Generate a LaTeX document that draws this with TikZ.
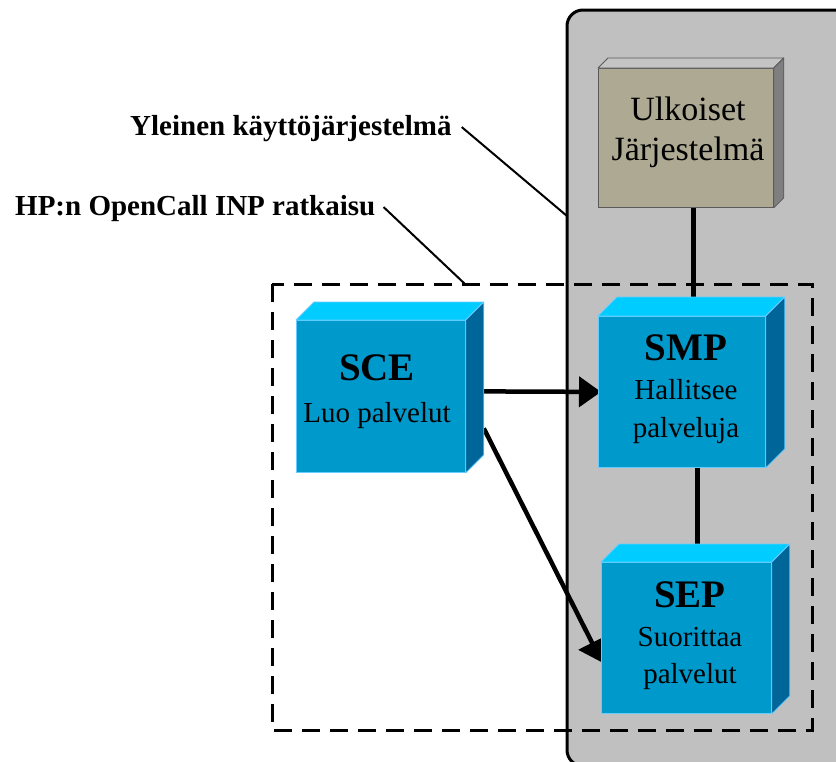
\documentclass[tikz,border=0pt]{standalone}
\usepackage{fontspec}
\setmainfont{Liberation Serif}
\usetikzlibrary{arrows.meta,calc}

\definecolor{osgray}{HTML}{C0C0C0}
\definecolor{bluefront}{HTML}{0099CC}
\definecolor{bluetop}{HTML}{00CCFF}
\definecolor{blueside}{HTML}{006699}
\definecolor{blueedge}{HTML}{66CCFF}
\definecolor{extfront}{HTML}{ADA993}
\definecolor{exttop}{HTML}{C4C4C4}
\definecolor{extside}{HTML}{7F7F7F}
\definecolor{extedge}{HTML}{5A5A5A}

\pgfdeclarelayer{back}
\pgfdeclarelayer{links}
\pgfsetlayers{back,links,main}

% top and side faces of a box whose front face is the node #1
\newcommand\cubefaces[5]{%
  \filldraw[fill=#3,draw=#5,line width=0.8pt,line join=round]
    (#1.north west) -- ++(#2,-#2) -- ($(#1.north east)+(#2,-#2)$) -- (#1.north east) -- cycle;
  \filldraw[fill=#4,draw=#5,line width=0.8pt,line join=round]
    (#1.north east) -- ++(#2,-#2) -- ($(#1.south east)+(#2,-#2)$) -- (#1.south east) -- cycle;
}

\tikzset{
  bluebox/.style={fill=bluefront,draw=blueedge,line width=0.8pt,inner sep=0,anchor=north west},
  extbox/.style={fill=extfront,draw=extedge,line width=0.8pt,inner sep=0,anchor=north west},
  title/.style={font=\fontsize{39}{42}\selectfont\bfseries,inner sep=0,anchor=base},
  body/.style={font=\fontsize{29}{32}\selectfont,inner sep=0,anchor=base},
  extbody/.style={font=\fontsize{34}{38}\selectfont,inner sep=0,anchor=base},
  tag/.style={font=\fontsize{29}{32}\selectfont\bfseries,inner sep=0,anchor=base west},
  link/.style={line width=4.5pt},
  arrowlink/.style={line width=4.5pt,-{Triangle[length=22pt,width=30pt]}},
  leader/.style={line width=2pt},
}

\begin{document}
\begin{tikzpicture}[x=1pt,y=-1pt]
\useasboundingbox (0,0) rectangle (836,761);
\clip (0,0) rectangle (836,761);

% operating system area and OpenCall INP boundary
\begin{pgfonlayer}{back}
\filldraw[fill=osgray,draw=black,line width=3pt,rounded corners=16pt]
  (567,10) rectangle (860,766);
\draw[line width=3pt,dash pattern=on 18pt off 10pt] (272,284) rectangle (812,730);
\end{pgfonlayer}

% boxes: front faces
\node[extbox,minimum width=175pt,minimum height=139pt] (ulk) at (598,68) {};
\node[bluebox,minimum width=169pt,minimum height=152pt] (sce) at (296,320) {};
\node[bluebox,minimum width=167pt,minimum height=151pt] (smp) at (598,316) {};
\node[bluebox,minimum width=170pt,minimum height=151pt] (sep) at (601,562) {};

% boxes: top and side faces
\cubefaces{ulk}{10}{exttop}{extside}{extedge}
\cubefaces{sce}{18}{bluetop}{blueside}{blueedge}
\cubefaces{smp}{19}{bluetop}{blueside}{blueedge}
\cubefaces{sep}{18}{bluetop}{blueside}{blueedge}

% connectors, kept under the boxes
\begin{pgfonlayer}{links}
\draw[link] ($(ulk.south)+(7.5,0)$) -- ($(smp.north)+(11.5,-18)$);
\draw[link] ($(smp.south)+(15.5,0)$) -- ($(sep.north)+(11,-18)$);
\draw[arrowlink] ($(sce.east)+(18,-5)$) -- ($(smp.west)+(3,0)$);
\draw[arrowlink] ($(sce.east)+(18,32)$) -- ($(sep.west)+(1,24.5)$);
\end{pgfonlayer}

% box texts
\node[extbody] (ulk1) at (688,120) {Ulkoiset};
\node[extbody] (ulk2) at (688,160) {Järjestelmä};
\node[title] (sce1) at (377,380) {SCE};
\node[body] (sce2) at (377,422) {Luo palvelut};
\node[title] (smp1) at (686,360) {SMP};
\node[body] (smp2) at (686,399) {Hallitsee};
\node[body] (smp3) at (686,437) {palveluja};
\node[title] (sep1) at (690,607) {SEP};
\node[body] (sep2) at (690,646) {Suorittaa};
\node[body] (sep3) at (690,683) {palvelut};

% labels with leader lines
\node[tag] (oslabel) at (130,135) {Yleinen käyttöjärjestelmä};
\node[tag] (inplabel) at (15,215) {HP:n OpenCall INP ratkaisu};
\coordinate (osedge) at (567,216);
\coordinate (inpedge) at (465,284);
\begin{pgfonlayer}{links}
\draw[leader] ($(oslabel.east)+(10,-1)$) -- (osedge);
\draw[leader] ($(inplabel.east)+(8,-1)$) -- (inpedge);
\end{pgfonlayer}
\end{tikzpicture}
\end{document}
